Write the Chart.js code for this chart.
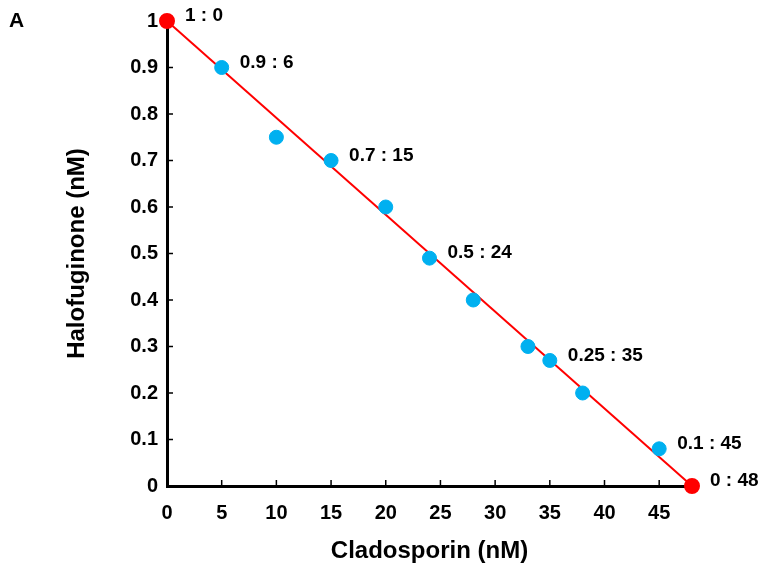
<!DOCTYPE html>
<html>
<head>
<meta charset="utf-8">
<script src="https://cdn.jsdelivr.net/npm/chart.js@4/dist/chart.umd.min.js"></script>
<style>
  html, body { margin: 0; padding: 0; background: #fff; }
  #wrap { width: 761px; height: 574px; }
</style>
</head>
<body>
<div id="wrap"><canvas id="chart"></canvas></div>
<script>
// combination points (Cladosporin nM, Halofuginone nM)
const cladosporin = [5, 10, 15, 20, 24, 28, 33, 35, 38, 45];
const halofuginone = [0.9, 0.75, 0.7, 0.6, 0.49, 0.4, 0.3, 0.27, 0.2, 0.08];
// single-drug endpoints, joined by the additivity line
const endCladosporin = [0, 48];
const endHalofuginone = [1, 0];
// ratio labels and the point they sit next to
const ratioLabels = ['1 : 0', '0.9 : 6', '0.7 : 15', '0.5 : 24', '0.25 : 35', '0.1 : 45', '0 : 48'];
const ratioX = [0, 5, 15, 24, 35, 45, 48];
const ratioY = [1, 0.9, 0.7, 0.49, 0.27, 0.08, 0];
const xTicks = [0, 5, 10, 15, 20, 25, 30, 35, 40, 45];

const FONT = 'Liberation Sans, Arial, sans-serif';

const toXY = (xs, ys) => xs.map((x, i) => ({ x: x, y: ys[i] }));

// ticks point into the plot, so draw them ourselves
const innerTicks = {
  id: 'innerTicks',
  beforeDatasetsDraw(chart) {
    const { ctx, scales: { x, y } } = chart;
    ctx.save();
    ctx.strokeStyle = '#000';
    ctx.lineWidth = 1.5;
    ctx.beginPath();
    x.ticks.forEach(t => {
      if (t.value === 0) return;
      const px = x.getPixelForValue(t.value);
      ctx.moveTo(px, y.bottom);
      ctx.lineTo(px, y.bottom - 6);
    });
    y.ticks.forEach(t => {
      if (t.value === 0) return;
      const py = y.getPixelForValue(t.value);
      ctx.moveTo(x.left, py);
      ctx.lineTo(x.left + 6, py);
    });
    ctx.stroke();
    ctx.restore();
  }
};

const ratioText = {
  id: 'ratioText',
  afterDraw(chart) {
    const { ctx, scales: { x, y } } = chart;
    ctx.save();
    ctx.fillStyle = '#000';
    ctx.font = 'bold 19px ' + FONT;
    ctx.textBaseline = 'middle';
    ratioLabels.forEach((lbl, i) => {
      ctx.fillText(lbl, x.getPixelForValue(ratioX[i]) + 18, y.getPixelForValue(ratioY[i]) - 5);
    });
    ctx.font = 'bold 21px ' + FONT;
    ctx.fillText('A', 9, 21);
    ctx.restore();
  }
};

new Chart(document.getElementById('chart'), {
  type: 'scatter',
  data: {
    datasets: [
      {
        label: 'combinations',
        data: toXY(cladosporin, halofuginone),
        backgroundColor: '#00B0F0',
        borderColor: '#00B0F0',
        pointRadius: 7,
        pointHoverRadius: 7,
        clip: false
      },
      {
        label: 'single drugs',
        data: toXY(endCladosporin, endHalofuginone),
        showLine: true,
        borderColor: '#FF0000',
        borderWidth: 2,
        backgroundColor: '#FF0000',
        pointRadius: 7,
        pointHoverRadius: 7,
        clip: false
      }
    ]
  },
  options: {
    responsive: true,
    maintainAspectRatio: false,
    animation: false,
    layout: { padding: { left: 54, right: 69, top: 20, bottom: 0 } },
    plugins: { legend: { display: false }, tooltip: { enabled: false } },
    scales: {
      x: {
        type: 'linear',
        min: 0,
        max: 48,
        afterBuildTicks: s => { s.ticks = xTicks.map(v => ({ value: v })); },
        afterFit: s => { s.height = 88; },
        grid: { drawOnChartArea: false, drawTicks: false },
        border: { color: '#000', width: 3 },
        ticks: { color: '#000', padding: 15, font: { family: FONT, size: 20, weight: 'bold' } },
        title: {
          display: true,
          text: 'Cladosporin (nM)',
          color: '#000',
          padding: { top: 4, bottom: 8 },
          font: { family: FONT, size: 24, weight: 'bold' }
        }
      },
      y: {
        min: 0,
        max: 1,
        afterFit: s => { s.width = 113; },
        grid: { drawOnChartArea: false, drawTicks: false },
        border: { color: '#000', width: 3 },
        ticks: {
          stepSize: 0.1,
          color: '#000',
          padding: 9,
          font: { family: FONT, size: 20, weight: 'bold' },
          callback: v => String(Math.round(v * 10) / 10)
        },
        title: {
          display: true,
          text: 'Halofuginone (nM)',
          color: '#000',
          padding: { top: 9, bottom: 4 },
          font: { family: FONT, size: 24, weight: 'bold' }
        }
      }
    }
  },
  plugins: [innerTicks, ratioText]
});
</script>
</body>
</html>
